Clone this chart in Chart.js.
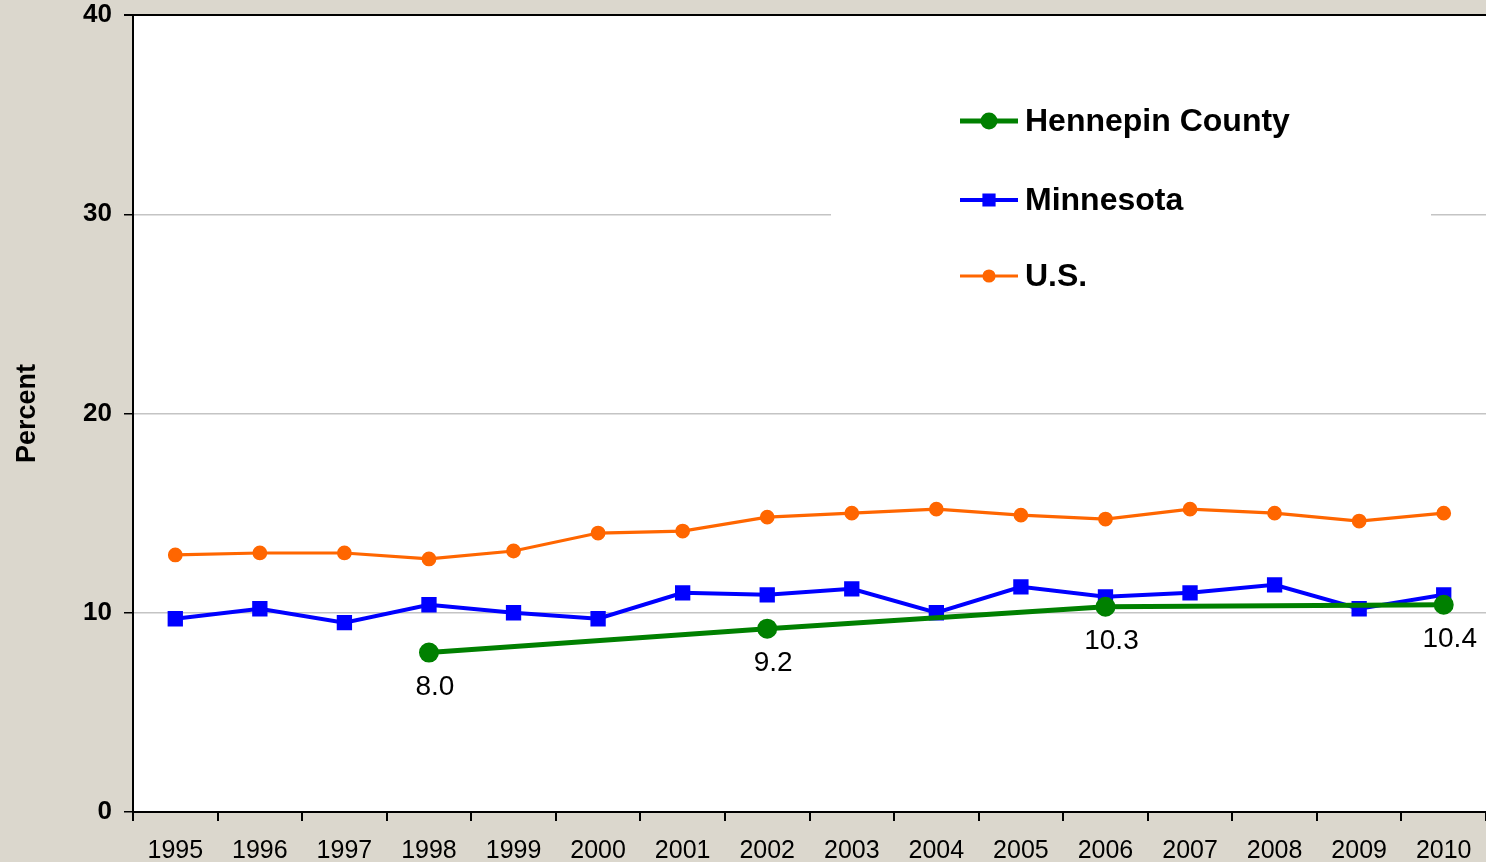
<!DOCTYPE html>
<html>
<head>
<meta charset="utf-8">
<script src="https://cdn.jsdelivr.net/npm/chart.js@4"></script>
<style>
  body { margin: 0; background: #dbd7cd; }
  #wrap { width: 1486px; height: 862px; position: relative; }
</style>
</head>
<body>
<div id="wrap"><canvas id="chart"></canvas></div>
<script>
// Data
const years = ["1995", "1996", "1997", "1998", "1999", "2000", "2001", "2002",
  "2003", "2004", "2005", "2006", "2007", "2008", "2009", "2010"];
const hennepin = [null, null, null, 8.0, null, null, null, 9.2,
  null, null, null, 10.3, null, null, null, 10.4];
const minnesota = [9.7, 10.2, 9.5, 10.4, 10.0, 9.7, 11.0, 10.9,
  11.2, 10.0, 11.3, 10.8, 11.0, 11.4, 10.2, 10.9];
const usa = [12.9, 13.0, 13.0, 12.7, 13.1, 14.0, 14.1, 14.8,
  15.0, 15.2, 14.9, 14.7, 15.2, 15.0, 14.6, 15.0];
const yTicks = [0, 10, 20, 30, 40];

const FONT = "'Liberation Sans', Arial, Helvetica, sans-serif";

// white plot area on the beige page
const plotBackground = {
  id: "plotBackground",
  beforeDraw(chart) {
    const { ctx, chartArea: a } = chart;
    ctx.save();
    ctx.fillStyle = "#ffffff";
    ctx.fillRect(a.left, a.top, a.right - a.left, a.bottom - a.top);
    ctx.restore();
  }
};

// legend box sitting inside the plot, covers the 30 gridline
const boxLegend = {
  id: "boxLegend",
  beforeDatasetsDraw(chart) {
    const { ctx, chartArea: a } = chart;
    const boxLeft = a.left + 698;
    ctx.save();
    ctx.fillStyle = "#ffffff";
    ctx.fillRect(boxLeft, a.top + 60, 600, 270);

    const rowY = [a.top + 106, a.top + 185, a.top + 261];
    const x0 = a.left + 827, x1 = a.left + 885;
    chart.data.datasets.forEach((ds, i) => {
      const y = rowY[i];
      ctx.strokeStyle = ds.borderColor;
      ctx.lineWidth = ds.borderWidth;
      ctx.beginPath();
      ctx.moveTo(x0, y);
      ctx.lineTo(x1, y);
      ctx.stroke();
      Chart.helpers.drawPoint(ctx, {
        pointStyle: ds.pointStyle,
        radius: ds.legendRadius,
        borderWidth: 1
      }, (x0 + x1) / 2, y);
      ctx.fillStyle = ds.borderColor;
      ctx.fill();
      ctx.fillStyle = "#000";
      ctx.font = "bold 32px " + FONT;
      ctx.textAlign = "left";
      ctx.textBaseline = "middle";
      ctx.fillText(ds.label, x1 + 7, y + 1);
    });
    ctx.restore();
  }
};

// value labels under the Hennepin County points
const pointLabels = {
  id: "pointLabels",
  afterDatasetsDraw(chart) {
    const { ctx } = chart;
    const meta = chart.getDatasetMeta(0);
    ctx.save();
    ctx.fillStyle = "#000";
    ctx.font = "28px " + FONT;
    ctx.textAlign = "center";
    ctx.textBaseline = "middle";
    meta.data.forEach((pt, i) => {
      const v = hennepin[i];
      if (v === null) return;
      ctx.fillText(v.toFixed(1), pt.x + 6, pt.y + 35);
    });
    ctx.restore();
  }
};

new Chart(document.getElementById("chart"), {
  type: "line",
  data: {
    labels: years,
    datasets: [
      {
        label: "Hennepin County",
        data: hennepin,
        spanGaps: true,
        borderColor: "#008000",
        backgroundColor: "#008000",
        borderWidth: 5,
        pointStyle: "circle",
        pointRadius: 7.5,
        legendRadius: 6,
        tension: 0
      },
      {
        label: "Minnesota",
        data: minnesota,
        borderColor: "#0000ff",
        backgroundColor: "#0000ff",
        borderWidth: 4,
        pointStyle: "rect",
        pointRadius: 8,
        legendRadius: 6.5,
        tension: 0
      },
      {
        label: "U.S.",
        data: usa,
        borderColor: "#ff6600",
        backgroundColor: "#ff6600",
        borderWidth: 3.2,
        pointStyle: "circle",
        pointRadius: 5.8,
        legendRadius: 5,
        tension: 0
      }
    ]
  },
  options: {
    responsive: true,
    maintainAspectRatio: false,
    animation: false,
    layout: {
      autoPadding: false,
      padding: { top: 15, right: 0, left: 0, bottom: 0 }
    },
    plugins: {
      legend: { display: false },
      title: { display: false },
      tooltip: { enabled: false }
    },
    elements: {
      point: { borderWidth: 1, hoverRadius: 7 }
    },
    scales: {
      x: {
        offset: true,
        grid: {
          offset: true,
          drawOnChartArea: false,
          tickLength: 9,
          tickColor: "#000",
          lineWidth: 2
        },
        border: { color: "#000", width: 2 },
        ticks: {
          color: "#000",
          font: { family: FONT, size: 25 },
          padding: 15,
          autoSkip: false,
          maxRotation: 0
        },
        afterFit(scale) {
          scale.height = 50;
          scale.paddingLeft = 0;
          scale.paddingRight = 0;
        }
      },
      y: {
        min: 0,
        max: 40,
        afterBuildTicks(scale) {
          scale.ticks = yTicks.map(v => ({ value: v }));
        },
        grid: {
          color: c => (c.tick && c.tick.value === 40 ? "#000" : "#c4c4c4"),
          lineWidth: c => (c.tick && c.tick.value === 40 ? 2 : 1.5),
          tickLength: 9,
          tickColor: "#000"
        },
        border: { color: "#000", width: 2 },
        ticks: {
          color: "#000",
          font: { family: FONT, size: 26, weight: "bold" },
          padding: 12
        },
        title: {
          display: true,
          text: "Percent",
          color: "#000",
          font: { family: FONT, size: 27, weight: "bold" },
          padding: { top: 11, bottom: 0 }
        },
        afterFit(scale) {
          scale.width = 133;
          scale.paddingTop = 0;
          scale.paddingBottom = 0;
        }
      }
    }
  },
  plugins: [plotBackground, boxLegend, pointLabels]
});
</script>
</body>
</html>
